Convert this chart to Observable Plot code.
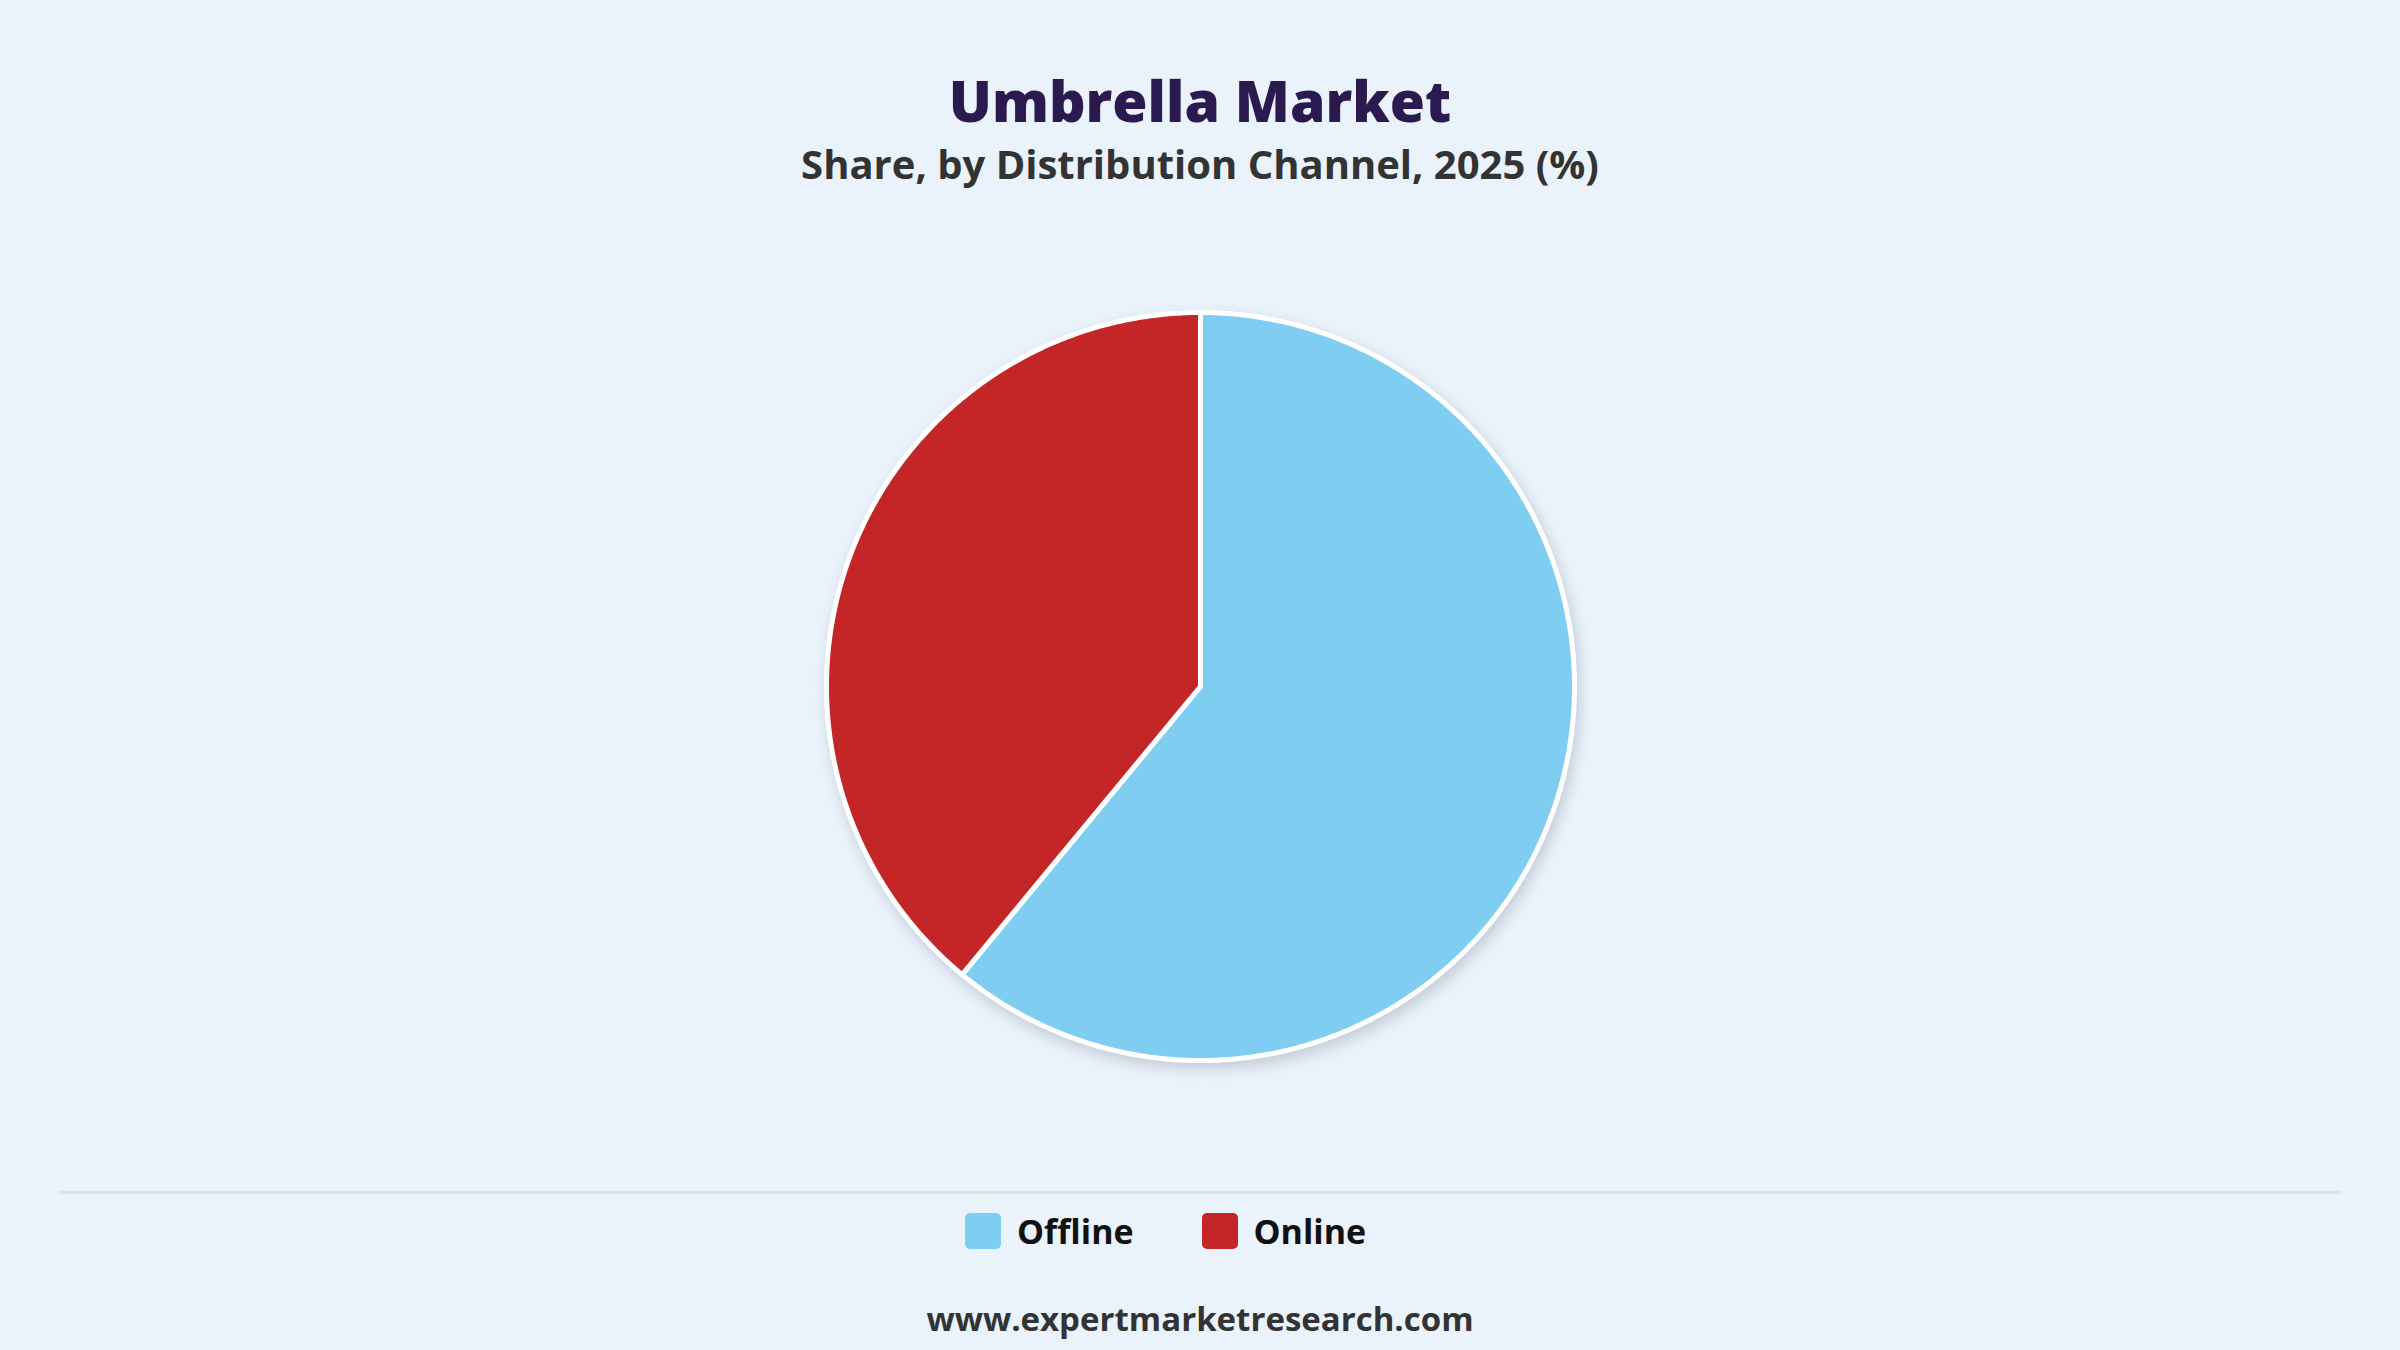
<!DOCTYPE html>
<html>
<head>
<meta charset="utf-8">
<script src="https://cdn.jsdelivr.net/npm/d3@7"></script>
<script src="https://cdn.jsdelivr.net/npm/@observablehq/plot@0.6"></script>
<style>
  html, body { margin: 0; padding: 0; background: #eaf2fb; width: 2400px; height: 1350px; overflow: hidden; font-family: "Open Sans", "Noto Sans", sans-serif; }
  #title { position: absolute; top: 62px; left: 0; width: 2400px; text-align: center; font-size: 57px; font-weight: 800; color: #2b1a4f; line-height: 76px; }
  #subtitle { position: absolute; top: 139px; left: 0; width: 2400px; text-align: center; font-size: 40px; font-weight: 700; color: #333333; line-height: 50px; }
  #chart { position: absolute; top: 236px; left: 0; }
  #chart g[aria-label="line"] { filter: drop-shadow(3px 6px 7px rgba(60,70,90,0.22)); }
  #rule { position: absolute; top: 1191px; left: 60px; width: 2280px; height: 3px; background: #dcdfe4; }
  #legend { position: absolute; top: 1208px; left: 965px; display: flex; align-items: center; gap: 68px; font-size: 34px; font-weight: 700; color: #111; }
  .item { display: flex; align-items: center; gap: 16px; }
  .sw { width: 36px; height: 36px; border-radius: 5px; }
  #source { position: absolute; top: 1296px; left: 0; width: 2400px; text-align: center; font-size: 33px; font-weight: 700; color: #333; }
</style>
</head>
<body>
<div id="title">Umbrella Market</div>
<div id="subtitle">Share, by Distribution Channel, 2025 (%)</div>
<div id="chart"></div>
<div id="rule"></div>
<div id="legend"></div>
<div id="source">www.expertmarketresearch.com</div>
<script>
const categories = ["Offline", "Online"];
const shares = [61, 39];
const colors = ["#7fcef1", "#c42526"];

// compute slice outlines from the data with d3.pie
const pie = d3.pie().sort(null).value(d => d.value);
const arcs = pie(categories.map((c, i) => ({category: c, value: shares[i]})));
const points = [];
arcs.forEach(a => {
  const steps = Math.max(8, Math.ceil((a.endAngle - a.startAngle) * 120));
  points.push({category: a.data.category, x: 0, y: 0});
  for (let k = 0; k <= steps; k++) {
    const t = a.startAngle + (a.endAngle - a.startAngle) * k / steps;
    points.push({category: a.data.category, x: Math.sin(t), y: Math.cos(t)});
  }
});

const cx = 1200, cy = 450, r = 374;
const plot = Plot.plot({
  width: 2400,
  height: 900,
  style: {background: "transparent", overflow: "visible"},
  x: {domain: [-1, 1], range: [cx - r, cx + r], axis: null},
  y: {domain: [-1, 1], range: [cy + r, cy - r], axis: null},
  color: {domain: categories, range: colors},
  marks: [
    Plot.line(points, {
      x: "x", y: "y", z: "category",
      fill: "category",
      stroke: "white",
      strokeWidth: 5,
      strokeLinejoin: "round",
      curve: "linear-closed"
    })
  ]
});
document.getElementById("chart").appendChild(plot);

const legend = document.getElementById("legend");
categories.forEach((c, i) => {
  const item = document.createElement("div");
  item.className = "item";
  const sw = document.createElement("div");
  sw.className = "sw";
  sw.style.background = colors[i];
  const label = document.createElement("span");
  label.textContent = c;
  item.appendChild(sw);
  item.appendChild(label);
  legend.appendChild(item);
});
</script>
</body>
</html>
